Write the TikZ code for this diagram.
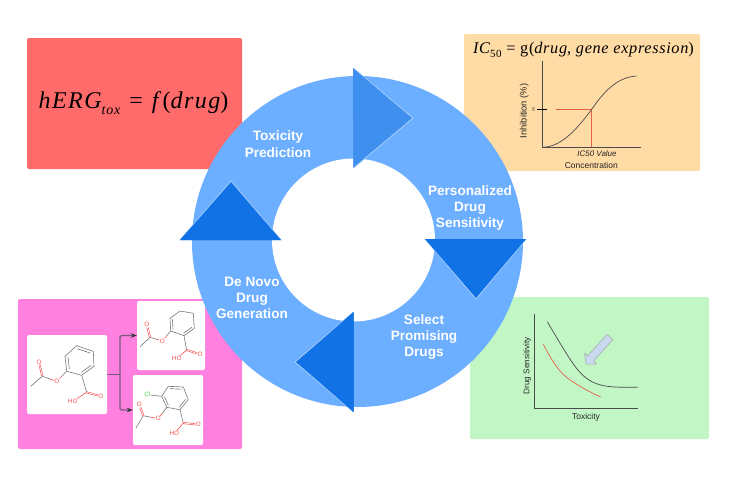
\documentclass[tikz,border=0pt]{standalone}
\usepackage{fontspec}
\setmainfont{Liberation Sans}
\newfontfamily\eqfont[LetterSpace=4]{Liberation Serif}
\newfontfamily\eqwide[LetterSpace=6]{Liberation Serif}
\usetikzlibrary{calc,arrows.meta}
\definecolor{ringc}{HTML}{6CAEFF}
\definecolor{tridark}{HTML}{1172E6}
\definecolor{trimid}{HTML}{3F8FEE}
\definecolor{triedge}{HTML}{A4CCFA}
\definecolor{redp}{HTML}{FF6B6B}
\definecolor{orangep}{HTML}{FFDBA5}
\definecolor{pinkp}{HTML}{FF80DF}
\definecolor{greenp}{HTML}{C2F6C5}
\definecolor{bondc}{HTML}{787878}
\definecolor{atomr}{HTML}{FA5050}
\definecolor{atomg}{HTML}{48DC48}
\definecolor{curvec}{HTML}{4A4A4A}
\definecolor{redl}{HTML}{E8604C}
\definecolor{arrowfill}{HTML}{C9DAF0}
\definecolor{linkc}{HTML}{7A5A80}
\newcommand{\panelat}[6]{\node[panelbox,fill=#6,minimum width=#3-#1,minimum height=#4-#2] (#5) at ({(#1+#3)/2},{(#2+#4)/2}) {};}
\newcommand{\innerbond}[3]{\draw[bond] ($(#1)!.2!(#3)$) -- ($(#2)!.2!(#3)$);}
\newcommand{\sublow}[1]{\raisebox{-0.22em}{\fontsize{14}{15}\selectfont #1}}
\tikzset{
  panelbox/.style={draw=none,rounded corners=2,inner sep=0},
  bond/.style={draw=bondc,line width=.6},
  rbond/.style={draw=atomr,line width=.6},
  atom/.style={inner sep=.4,font=\fontsize{6.3}{6}\selectfont,text=atomr},
  steplabel/.style={text=white,font=\bfseries\fontsize{13.6}{16.3}\selectfont,align=center,inner sep=0},
  axisline/.style={draw=curvec,line width=.9},
  chartlabel/.style={text=black!85,font=\fontsize{8.5}{9}\selectfont,inner sep=0},
  linkline/.style={draw=linkc,line width=1.2,rounded corners=1.5},
  triedgeline/.style={draw=triedge,line width=.9,line join=round}
}
\begin{document}
\begin{tikzpicture}[x=1pt,y=-1pt]
\useasboundingbox (0,0) rectangle (732,485);
\fill[white] (0,0) rectangle (732,485);
% panels
\panelat{27}{38}{242}{169}{redpanel}{redp}
\panelat{464}{34}{700}{171}{orangepanel}{orangep}
\panelat{18}{299}{242}{449}{pinkpanel}{pinkp}
\panelat{470}{297}{709}{439}{greenpanel}{greenp}
% equations
\node[inner sep=0,font=\eqwide\fontsize{24}{26}\selectfont] (eqA) at (133.5,103) {\itshape hERG\sublow{tox}\upshape\hspace{9pt}=\hspace{9pt}\itshape f\upshape\,(\itshape drug\upshape)};
\node[inner sep=0,font=\eqfont\fontsize{16.3}{18}\selectfont] (eqB) at (583.5,50) {\itshape IC\upshape\raisebox{-0.25em}{\fontsize{11}{12}\selectfont 50} = g(\itshape drug\upshape, \itshape gene expression\upshape)};
% molecule boxes
\panelat{27}{335}{107}{414}{molA}{white}
\panelat{137}{301}{205}{370}{molB}{white}
\panelat{133}{375}{203}{445}{molC}{white}
% links
\coordinate (junction) at (120,374.5);
\draw[linkline] (molA.east) -- (junction);
\draw[linkline,-{Stealth[length=6,width=4.5,color=black!80]}] (junction) |- (molB.west);
\draw[linkline,-{Stealth[length=6,width=4.5,color=black!80]}] (junction) |- (molC.west);
% molecule A
\foreach \n/\x/\y in {a1/76.7/345.7,a2/93.3/351.3,a3/94/366.3,a4/81.7/375.3,a5/66.7/371.3,a6/65/356.3,ac/79.9/360.8,aC/42.3/376.3,aM/30.7/386.3,aK/86.7/392.3}{\coordinate (\n) at (\x,\y);}
\node[atom] (aO) at (56.7,381.3) {O};
\node[atom] (aP) at (39,362) {O};
\node[atom] (aQ) at (100.7,396.3) {O};
\node[atom] (aH) at (72.7,401.3) {HO};
\draw[bond,line join=round] (a1)--(a2)--(a3)--(a4)--(a5)--(a6)--cycle;
\innerbond{a1}{a2}{ac}\innerbond{a3}{a4}{ac}\innerbond{a5}{a6}{ac}
\draw[bond] (a5)--($(a5)!.5!(aO)$); \draw[rbond] ($(a5)!.5!(aO)$)--(aO);
\draw[bond] (aC)--($(aC)!.5!(aO)$); \draw[rbond] ($(aC)!.5!(aO)$)--(aO);
\draw[bond] (aC)--(aM);
\draw[rbond,double,double distance=.7] (aC)--(aP);
\draw[bond] (a4)--(aK);
\draw[rbond,double,double distance=.7] (aK)--(aQ);
\draw[rbond] (aK)--(aH);
% molecule B
\foreach \n/\x/\y in {b1/180/311,b2/193.3/313.3,b3/194.3/328.3,b4/184/335.7,b5/170.7/331,b6/170/318.3,bc/182.2/323.5,bC/150/337.3,bM/140/346.7,bK/186.7/350}{\coordinate (\n) at (\x,\y);}
\node[atom] (bO) at (162.3,341) {O};
\node[atom] (bP) at (146.7,324.3) {O};
\node[atom] (bQ) at (200,354.3) {O};
\node[atom] (bH) at (176.7,358.3) {HO};
\draw[bond,line join=round] (b1)--(b2)--(b3)--(b4)--(b5)--(b6)--cycle;
\innerbond{b3}{b4}{bc}\innerbond{b5}{b6}{bc}
\draw[bond] (b5)--($(b5)!.5!(bO)$); \draw[rbond] ($(b5)!.5!(bO)$)--(bO);
\draw[bond] (bC)--($(bC)!.5!(bO)$); \draw[rbond] ($(bC)!.5!(bO)$)--(bO);
\draw[bond] (bC)--(bM);
\draw[rbond,double,double distance=.7] (bC)--(bP);
\draw[bond] (b4)--(bK);
\draw[rbond,double,double distance=.7] (bK)--(bQ);
\draw[rbond] (bK)--(bH);
% molecule C
\foreach \n/\x/\y in {c1/168.3/386.3,c2/183.3/387,c3/188.3/399.7,c4/180/409.7,c5/166.7/407.3,c6/161.7/396.3,cc/175/398,cC/143.3/415.7,cM/136/428,cK/183.3/423}{\coordinate (\n) at (\x,\y);}
\node[atom] (cO) at (158.3,418.7) {O};
\node[atom] (cP) at (139.3,404.7) {O};
\node[atom] (cQ) at (198.3,424.7) {O};
\node[atom] (cH) at (174.3,433.7) {HO};
\node[atom,text=atomg] (cL) at (147.3,394.7) {Cl};
\draw[bond,line join=round] (c1)--(c2)--(c3)--(c4)--(c5)--(c6)--cycle;
\innerbond{c1}{c2}{cc}\innerbond{c3}{c4}{cc}\innerbond{c5}{c6}{cc}
\draw[bond] (c6)--(cL);
\draw[bond] (c5)--($(c5)!.5!(cO)$); \draw[rbond] ($(c5)!.5!(cO)$)--(cO);
\draw[bond] (cC)--($(cC)!.5!(cO)$); \draw[rbond] ($(cC)!.5!(cO)$)--(cO);
\draw[bond] (cC)--(cM);
\draw[rbond,double,double distance=.7] (cC)--(cP);
\draw[bond] (c4)--(cK);
\draw[rbond,double,double distance=.7] (cK)--(cQ);
\draw[rbond] (cK)--(cH);
% IC50 chart
\coordinate (icTop) at (542.3,60.7);
\coordinate (icO) at (542.3,147.3);
\coordinate (icEnd) at (640.7,147.3);
\coordinate (icMid) at (591.7,109.3);
\coordinate (icFoot) at (591.7,147);
\draw[axisline] (icTop)--(icO)--(icEnd);
\draw[redl,line width=.7] (556,109.3)--(icMid)--(icFoot);
\draw[black,line width=.7] (537.3,109.3)--(547.3,109.3);
\draw[curvec,line width=.7] (icO) .. controls (560,147) and (575,132) .. (icMid) .. controls (607,87) and (620,77) .. (636.7,76);
\node[chartlabel,rotate=90,font=\fontsize{9.3}{10}\selectfont] (inhib) at (524.3,111) {Inhibition (\%)};
\node[chartlabel,rotate=90,font=\fontsize{3.5}{4}\selectfont] (fifty) at (533.3,109.3) {50};
\node[chartlabel,font=\itshape\fontsize{8}{9}\selectfont] (icval) at (597,154) {IC50 Value};
\node[chartlabel] (conc) at (591.3,165.7) {Concentration};
% Toxicity chart
\coordinate (tTop) at (534.7,314.3);
\coordinate (tO) at (534.7,408.3);
\coordinate (tEnd) at (637.7,408.3);
\draw[axisline,line width=1] (tTop)--(tO)--(tEnd);
\draw[curvec,line width=.7] (547.3,321.7) .. controls (557,338) and (565,352) .. (572,362) .. controls (582,377) and (592,386) .. (615,387) .. controls (622,387.4) and (630,387.3) .. (637.7,387.3);
\draw[redl,line width=.7] (543.3,344.3) .. controls (552,361) and (560,374) .. (571.7,381) .. controls (582,388) and (590,392) .. (600.7,397);
\node[chartlabel,rotate=90,font=\fontsize{8.2}{10}\selectfont] (sens) at (527.3,366) {Drug Sensitivity};
\node[chartlabel] (tox) at (586,417.7) {Toxicity};
\draw[fill=arrowfill,draw=black!35,line width=.5,line join=round]
  (607,334.5)--(612.8,339.5)--(593.8,360.8)--(596.5,364)--(586,364)--(584.5,353)--(587.6,356)--cycle;
% ring
\fill[ringc] (357.5,241.5) circle[radius=165.5];
\fill[white] (353.5,240) circle[radius=81.5];
% triangles
\fill[trimid] (353,68)--(413,118)--(353.5,168)--cycle;
\draw[triedgeline] (353,68)--(413,118)--(353.5,168);
\fill[tridark] (425,239)--(526,239)--(476,299)--cycle;
\draw[triedgeline] (425,239)--(476,299)--(526,239);
\fill[tridark] (353.5,312)--(353.5,412)--(295,362)--cycle;
\draw[triedgeline] (353.5,312)--(295,362)--(353.5,412);
\fill[tridark] (180,240)--(281,240)--(231,181)--cycle;
\draw[triedgeline] (180,240)--(231,181)--(281,240);
\fill[trimid] (353,68)--(411.5,118)--(353.5,167)--cycle;
\fill[tridark] (425,239)--(526,239)--(476,297.5)--cycle;
\fill[tridark] (353.5,312)--(353.5,412)--(296.5,362)--cycle;
\fill[tridark] (180,240)--(281,240)--(231,182.5)--cycle;
% labels
\node[steplabel] (s1) at (278,144) {Toxicity\\Prediction};
\node[steplabel] (s2) at (470,208) {Personalized\\Drug\\Sensitivity};
\node[steplabel] (s3) at (424,337) {Select\\Promising\\Drugs};
\node[steplabel] (s4) at (252,298) {De Novo\\Drug\\Generation};
\end{tikzpicture}
\end{document}
